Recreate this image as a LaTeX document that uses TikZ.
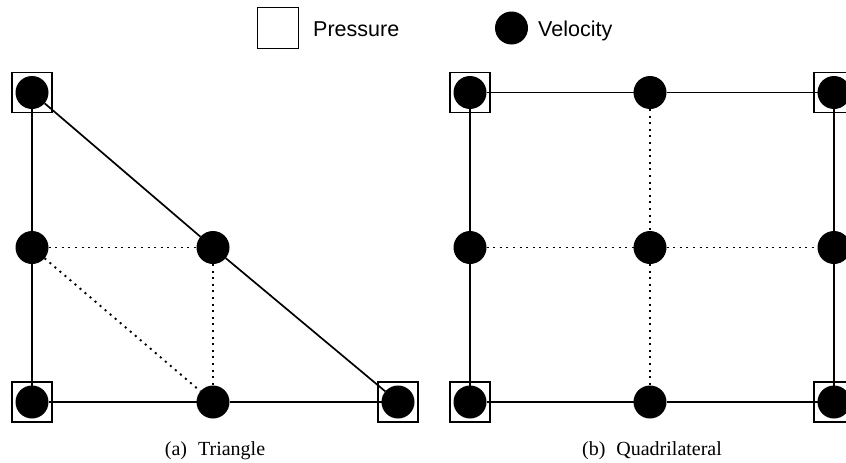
\documentclass[tikz,border=0pt]{standalone}
\usepackage{fontspec}
\setmainfont{Liberation Serif}
\newfontfamily\sansf{Liberation Sans}
\begin{document}
\begin{tikzpicture}[x=1pt,y=-1pt,
  vel/.style={circle,fill=black,minimum size=33pt,inner sep=0pt,outer sep=0pt},
  pres/.style={draw=black,line width=1.7pt,minimum size=40pt,inner sep=0pt},
  edge/.style={line width=1.7pt},
  dotline/.style={line width=1.9pt,dash pattern=on 2pt off 4.6pt},
  lab/.style={font=\sansf\fontsize{21.5}{24}\selectfont,inner sep=0pt,anchor=base west},
  capt/.style={font=\fontsize{20}{24}\selectfont,inner sep=0pt,anchor=base}]
\useasboundingbox (0,0) rectangle (846,463);
\clip (0,0) rectangle (846,463);

% legend
\node[pres,minimum size=41pt] (lp) at (278,28) {};
\node[lab] (lpt) at (313,36) {Pressure};
\node[vel] (lv) at (511.5,28) {};
\node[lab] (lvt) at (538,36) {Velocity};

% triangle: pressure squares
\node[pres] (pt1) at (32,92.5) {};
\node[pres] (pt3) at (32,402) {};
\node[pres] (pt6) at (398,402) {};
% triangle: velocity nodes
\node[vel] (t1) at (32,92.5) {};
\node[vel] (t2) at (32,247.5) {};
\node[vel] (t3) at (32,402) {};
\node[vel] (t4) at (213,247.5) {};
\node[vel] (t5) at (213,402) {};
\node[vel] (t6) at (398,402) {};

% quad: pressure squares
\node[pres] (pq11) at (470,92.5) {};
\node[pres] (pq13) at (834,92.5) {};
\node[pres] (pq31) at (470,402) {};
\node[pres] (pq33) at (834,402) {};
% quad: velocity nodes
\node[vel] (q11) at (470,92.5) {};
\node[vel] (q12) at (650,92.5) {};
\node[vel] (q13) at (834,92.5) {};
\node[vel] (q21) at (470,247.5) {};
\node[vel] (q22) at (650,247.5) {};
\node[vel] (q23) at (834,247.5) {};
\node[vel] (q31) at (470,402) {};
\node[vel] (q32) at (650,402) {};
\node[vel] (q33) at (834,402) {};

% triangle edges
\draw[edge] (t1) -- (t2);
\draw[edge] (t2) -- (t3);
\draw[edge] (t3) -- (t5);
\draw[edge] (t5) -- (t6);
\draw[edge] (t6) -- (t4);
\draw[edge] (t4) -- (t1);
\draw[dotline] (t2) -- (t4);
\draw[dotline] (t2) -- (t5);
\draw[dotline] (t4) -- (t5);

% quad edges
\draw[edge] (q11) -- (q12);
\draw[edge] (q12) -- (q13);
\draw[edge] (q13) -- (q23);
\draw[edge] (q23) -- (q33);
\draw[edge] (q33) -- (q32);
\draw[edge] (q32) -- (q31);
\draw[edge] (q31) -- (q21);
\draw[edge] (q21) -- (q11);
\draw[dotline] (q12) -- (q22);
\draw[dotline] (q22) -- (q32);
\draw[dotline] (q21) -- (q22);
\draw[dotline] (q22) -- (q23);

% captions
\node[capt] (ca) at (215,455) {(a)\hspace{0.55em}Triangle};
\node[capt] (cb) at (652,455) {(b)\hspace{0.55em}Quadrilateral};
\end{tikzpicture}
\end{document}
